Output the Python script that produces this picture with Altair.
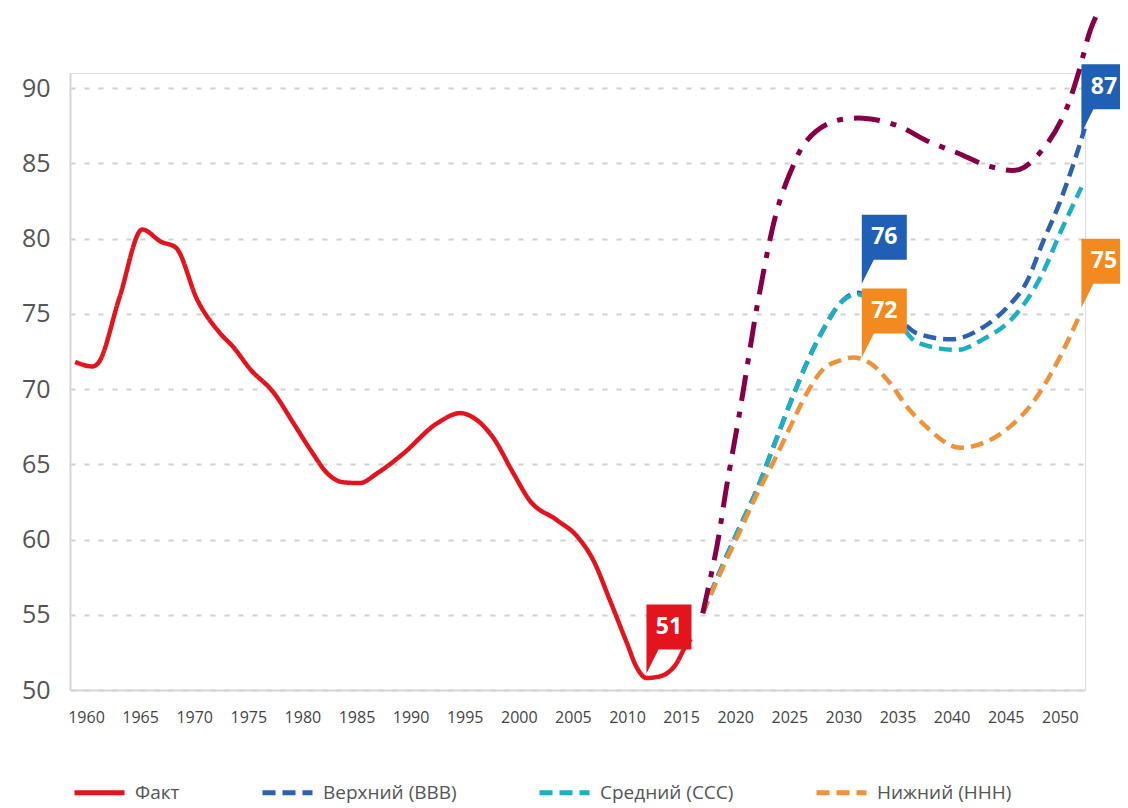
import altair as alt
import pandas as pd

# ---- data ----
series_names = ["Факт", "Верхний (ВВВ)", "Средний (ССС)", "Нижний (ННН)"]
series_colors = ["#e3141e", "#2d62b0", "#1bb0c4", "#f0923a"]

fact_years = [1959.0, 1960.6, 1961.1, 1963.1, 1965.2, 1966.9, 1968.3, 1970.3, 1972.4, 1973.6,
              1975.2, 1977.3, 1979.2, 1980.8, 1982.3, 1983.8, 1985.3, 1986.9, 1989.3, 1992.4,
              1994.6, 1995.8, 1997.6, 1999.5, 2001.0, 2003.5, 2005.4, 2006.9, 2008.4, 2010.0,
              2010.9, 2011.8, 2013.0, 2014.6, 2015.4, 2015.9]
fact_values = [71.8, 71.5, 71.7, 76.1, 80.6, 79.8, 79.4, 75.9, 73.7, 72.8,
               71.3, 69.8, 67.7, 65.9, 64.4, 63.8, 63.75, 64.4, 65.7, 67.7,
               68.4, 68.1, 66.8, 64.4, 62.6, 61.3, 60.2, 58.6, 56.0, 53.1,
               51.5, 50.8, 50.9, 51.8, 52.9, 53.4]

upper_years = [2017.0, 2018.9, 2020.4, 2022.0, 2023.5, 2025.1, 2026.6, 2028.1, 2029.7, 2031.3,
               2033.0, 2035.2, 2036.8, 2039.9, 2042.9, 2045.1, 2047.0, 2048.4, 2050.0, 2051.6, 2052.3]
upper_values = [55.1, 58.4, 60.8, 63.3, 66.1, 69.1, 71.7, 73.9, 75.7, 76.4,
                75.8, 74.6, 73.7, 73.3, 74.1, 75.4, 77.2, 79.7, 82.4, 85.7, 87.3]

middle_years = [2017.0, 2018.9, 2020.4, 2022.0, 2023.5, 2025.1, 2026.6, 2028.1, 2029.7, 2031.3,
                2033.0, 2035.2, 2036.8, 2040.5, 2042.9, 2046.0, 2048.2, 2050.3, 2052.0]
middle_values = [55.1, 58.4, 60.8, 63.3, 66.1, 69.1, 71.7, 73.9, 75.7, 76.3,
                 75.6, 74.3, 73.1, 72.6, 73.3, 75.0, 77.4, 80.8, 83.4]

lower_years = [2017.0, 2018.9, 2020.4, 2022.0, 2023.5, 2025.1, 2026.6, 2028.1, 2029.7, 2030.9,
               2032.5, 2034.3, 2035.9, 2037.5, 2040.8, 2042.9, 2045.4, 2047.5, 2049.7, 2051.9]
lower_values = [55.1, 58.2, 60.5, 63.0, 65.1, 67.5, 69.7, 71.3, 71.9, 72.1,
                71.7, 70.4, 68.8, 67.6, 66.1, 66.4, 67.5, 69.1, 71.7, 75.0]

extra_years = [2017.0, 2018.3, 2019.2, 2020.4, 2021.4, 2022.1, 2023.8, 2025.1, 2026.6, 2028.8,
               2031.8, 2035.0, 2037.7, 2040.5, 2043.5, 2046.3, 2048.4, 2050.3, 2051.6, 2052.8, 2053.5]
extra_values = [55.1, 59.5, 63.5, 68.4, 72.8, 75.8, 81.7, 84.4, 86.5, 87.7,
                88.0, 87.5, 86.5, 85.7, 84.8, 84.6, 85.9, 88.1, 90.7, 93.8, 95.0]

callout_years = [2011.8, 2031.7, 2031.7, 2052.0, 2052.0]
callout_values = [51.1, 77.0, 72.1, 87.0, 75.4]
callout_labels = ["51", "76", "72", "87", "75"]
callout_colors = ["#e3141e", "#1f5fb5", "#f28a1f", "#1f5fb5", "#f28a1f"]

x_ticks = list(range(1960, 2051, 5))
y_ticks = list(range(50, 91, 5))

# ---- tables ----
rows = []
for name, ys, vs in zip(series_names,
                        [fact_years, upper_years, middle_years, lower_years],
                        [fact_values, upper_values, middle_values, lower_values]):
    for i, (y, v) in enumerate(zip(ys, vs)):
        rows.append({"series": name, "year": y, "value": v, "order": i})
lines_df = pd.DataFrame(rows)
extra_df = pd.DataFrame({"year": extra_years, "value": extra_values, "order": range(len(extra_years))})
callout_df = pd.DataFrame({"year": callout_years, "value": callout_values,
                           "label": callout_labels, "ccolor": callout_colors})

FONT = "Open Sans, sans-serif"

x_scale = alt.Scale(domain=[1958.52, 2052.33], nice=False, zero=False)
y_scale = alt.Scale(domain=[50, 91], nice=False, zero=False)

x_enc = alt.X("year:Q", scale=x_scale,
              axis=alt.Axis(values=x_ticks, format="d", title=None, grid=False, ticks=False,
                            labelFontSize=16, labelColor="#444", labelPadding=19,
                            domainColor="#d5d5d5", domainWidth=2, labelFont=FONT))
y_enc = alt.Y("value:Q", scale=y_scale,
              axis=alt.Axis(values=y_ticks, title=None, grid=True, ticks=False,
                            gridColor="#d0d0d0", gridDash=[5, 9], gridWidth=2,
                            labelFontSize=25, labelColor="#555", labelPadding=20,
                            domainColor="#d5d5d5", domainWidth=2, labelFont=FONT))

lines = alt.Chart(lines_df).mark_line(strokeWidth=4.5, interpolate="monotone", clip=False).encode(
    x=x_enc,
    y=y_enc,
    order="order:Q",
    color=alt.Color("series:N", scale=alt.Scale(domain=series_names, range=series_colors),
                    sort=series_names,
                    legend=alt.Legend(title=None, orient="none", direction="horizontal", columns=4,
                                      legendX=2, legendY=692, symbolType="stroke",
                                      symbolSize=2500, symbolStrokeWidth=5,
                                      labelFontSize=19, labelColor="#555", labelFont=FONT,
                                      columnPadding=72, labelOffset=8)),
    strokeDash=alt.StrokeDash("series:N",
                              scale=alt.Scale(domain=series_names,
                                              range=[[1, 0], [13, 7], [13, 7], [13, 7]]),
                              sort=series_names, legend=None),
)

extra = alt.Chart(extra_df).mark_line(strokeWidth=5, color="#870047", interpolate="catmull-rom",
                                      strokeDash=[26, 11, 6, 11], clip=False).encode(
    x=alt.X("year:Q", scale=x_scale),
    y=alt.Y("value:Q", scale=y_scale),
    order="order:Q",
)

callout_path = "M0,0 L0,-69 L45,-69 L45,-24 L12,-24 Z"
boxes = alt.Chart(callout_df).mark_point(shape=callout_path, size=4, filled=True, opacity=1,
                                         strokeWidth=0, clip=False).encode(
    x=alt.X("year:Q", scale=x_scale),
    y=alt.Y("value:Q", scale=y_scale),
    fill=alt.Fill("ccolor:N", scale=None),
)
texts = alt.Chart(callout_df).mark_text(color="white", fontSize=23, fontWeight="bold", font=FONT,
                                        dx=22.5, dy=-46.5, align="center", baseline="middle",
                                        clip=False).encode(
    x=alt.X("year:Q", scale=x_scale),
    y=alt.Y("value:Q", scale=y_scale),
    text="label:N",
)

chart = alt.layer(lines, extra, boxes, texts).properties(
    width=1015, height=617,
    autosize=alt.AutoSizeParams(type="none"),
    padding={"left": 62, "top": 65, "right": 35, "bottom": 115},
).configure_view(stroke=None).configure(font=FONT)

chart.save("out.html", embed_options={"renderer": "svg", "actions": False})
